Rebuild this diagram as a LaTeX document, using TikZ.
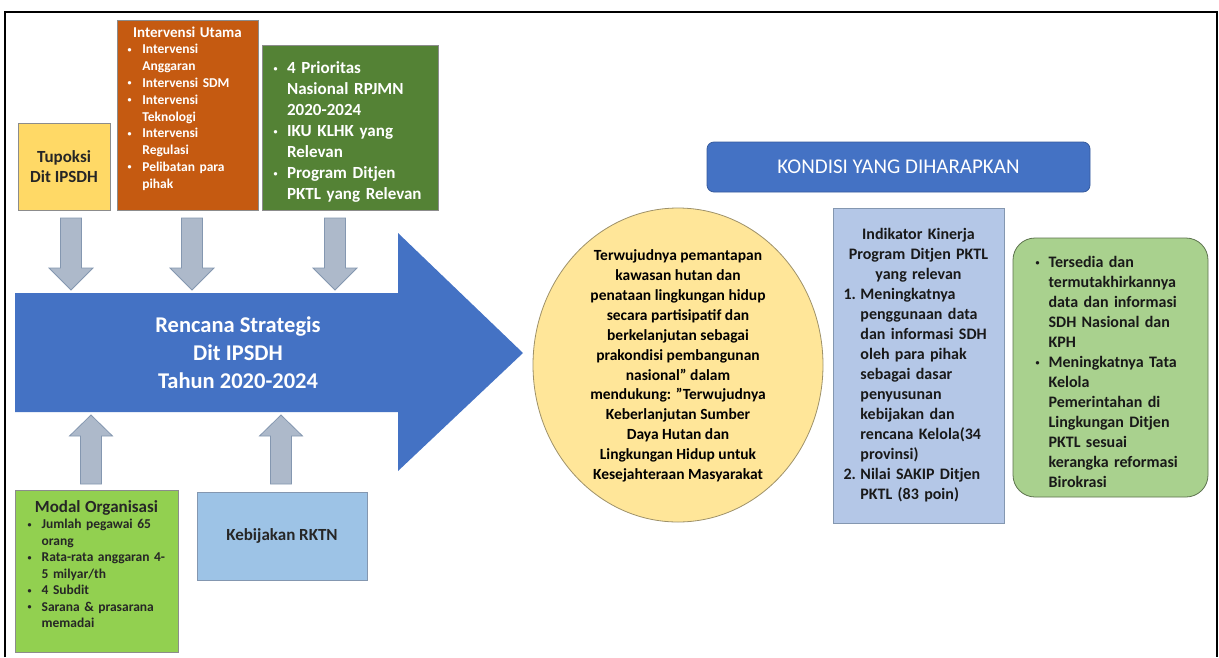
\documentclass[tikz,border=0pt]{standalone}
\usepackage{fontspec}
\setmainfont{Carlito}
\usetikzlibrary{positioning}
\definecolor{tupoksikuning}{HTML}{FFD966}
\definecolor{intervensioranye}{HTML}{C55A11}
\definecolor{prioritashijau}{HTML}{548235}
\definecolor{renstrabiru}{HTML}{4472C4}
\definecolor{panahabu}{HTML}{ADB9CA}
\definecolor{panahtepi}{HTML}{8497B0}
\definecolor{modalhijau}{HTML}{92D050}
\definecolor{rktnbiru}{HTML}{9DC3E6}
\definecolor{tujuankuning}{HTML}{FFE699}
\definecolor{indikatorbiru}{HTML}{B4C7E7}
\definecolor{harapanhijau}{HTML}{A9D18E}
% one line of a list: label, hanging text
\newcommand{\butir}[3][1em]{\par\hangindent=#1\hangafter=1\noindent\makebox[#1][l]{#2}#3}
% small bullet
\newcommand{\titik}{\raisebox{0.12em}{\fontsize{8}{8}\selectfont\textbullet}}
\begin{document}
\begin{tikzpicture}[x=1pt,y=-1pt,
  kotak/.style={draw=black!45, line width=0.8pt, inner sep=0pt},
  panah/.style={fill=panahabu, draw=panahtepi, line width=0.8pt}]
  \useasboundingbox (0,0) rectangle (1219,657);
  \fill[white] (0,0) rectangle (1219,657);
  % frame
  \draw[line width=2pt] (5,657) -- (5,12) -- (1217,12) -- (1217,657);
  % Tupoksi
  \node[kotak, fill=tupoksikuning, minimum width=92pt, minimum height=87pt,
    align=center, text=black!85, font=\bfseries\fontsize{17}{20}\selectfont]
    (tupoksi) at (64,166.5) {Tupoksi\\Dit IPSDH};
  % Intervensi Utama
  \node[kotak, fill=intervensioranye, minimum width=141pt, minimum height=190pt,
    text width=120pt, align=left, text=white, font=\bfseries\fontsize{13.5}{16.8}\selectfont]
    (intervensi) at (187.5,115) {{\centering\fontsize{15}{17}\selectfont Intervensi Utama\par}
    \butir[1.1em]{\titik}{Intervensi\newline Anggaran}
    \butir[1.1em]{\titik}{Intervensi SDM}
    \butir[1.1em]{\titik}{Intervensi\newline Teknologi}
    \butir[1.1em]{\titik}{Intervensi\newline Regulasi}
    \butir[1.1em]{\titik}{Pelibatan para\newline pihak}\par\vspace{13pt}};
  % Prioritas
  \node[kotak, fill=prioritashijau, minimum width=176pt, minimum height=165pt,
    text width=153pt, align=left, text=white, font=\bfseries\fontsize{17}{21}\selectfont]
    (prioritas) at (350,127.5) {\butir[0.8em]{\titik}{4 Prioritas\newline Nasional RPJMN\newline 2020-2024}
    \butir[0.8em]{\titik}{IKU KLHK yang\newline Relevan}
    \butir[0.8em]{\titik}{Program Ditjen\newline PKTL yang Relevan}\par};
  % arrows down
  \foreach \x in {71,192,335}
    \draw[panah] (\x-10.5,218) -- (\x+10.5,218) -- (\x+10.5,268) -- (\x+22,268)
      -- (\x,290) -- (\x-22,268) -- (\x-10.5,268) -- cycle;
  % Rencana Strategis
  \fill[renstrabiru] (15,293) -- (398,293) -- (398,233) -- (523,353)
    -- (398,471) -- (398,412) -- (15,412) -- cycle;
  \node[align=center, text=white, font=\bfseries\fontsize{22.5}{28}\selectfont]
    (renstra) at (238,353) {Rencana Strategis\\Dit IPSDH\\Tahun 2020-2024};
  % arrows up
  \foreach \x in {91,281}
    \draw[panah] (\x-10.5,484) -- (\x-10.5,436) -- (\x-21.5,436) -- (\x,415)
      -- (\x+21.5,436) -- (\x+10.5,436) -- (\x+10.5,484) -- cycle;
  % Modal Organisasi
  \node[kotak, fill=modalhijau, minimum width=163pt, minimum height=162pt,
    text width=138pt, align=left, text=black!85, font=\bfseries\fontsize{13.5}{16.5}\selectfont]
    (modal) at (96.5,571) {{\centering\fontsize{17}{19}\selectfont Modal Organisasi\par}
    \butir[1.05em]{\titik}{Jumlah pegawai 65\newline orang}
    \butir[1.05em]{\titik}{Rata-rata anggaran 4-\newline 5 milyar/th}
    \butir[1.05em]{\titik}{4 Subdit}
    \butir[1.05em]{\titik}{Sarana \& prasarana\newline memadai}\par\vspace{14pt}};
  % Kebijakan RKTN
  \node[kotak, fill=rktnbiru, draw=panahtepi, minimum width=170pt, minimum height=88pt,
    text=black!85, font=\bfseries\fontsize{17}{20}\selectfont]
    (rktn) at (282,536) {Kebijakan RKTN};
  % tujuan
  \draw[fill=tujuankuning, draw=black!35!tujuankuning!80!gray, line width=0.8pt]
    (678,365) ellipse [x radius=145, y radius=157];
  \node[align=center, text=black, font=\bfseries\fontsize{15.5}{19.9}\selectfont]
    (tujuan) at (678,366) {Terwujudnya pemantapan\\kawasan hutan dan\\penataan lingkungan hidup\\
    secara partisipatif dan\\berkelanjutan sebagai\\prakondisi pembangunan\\nasional" dalam\\
    mendukung: "Terwujudnya\\Keberlanjutan Sumber\\Daya Hutan dan\\Lingkungan Hidup untuk\\
    Kesejahteraan Masyarakat};
  % Kondisi yang diharapkan
  \node[kotak, fill=renstrabiru, draw=renstrabiru!80!black, rounded corners=7pt,
    minimum width=383pt, minimum height=50pt, text=white, font=\fontsize{21}{25}\selectfont]
    (kondisi) at (898.5,167) {KONDISI YANG DIHARAPKAN};
  % Indikator Kinerja
  \node[kotak, fill=indikatorbiru, draw=panahtepi, minimum width=171pt, minimum height=315pt,
    text width=150pt, align=left, text=black!90, font=\bfseries\fontsize{16}{20}\selectfont]
    (indikator) at (918.5,365.5) {{\centering Indikator Kinerja\\Program Ditjen PKTL\\yang relevan\par}
    \butir[1.06em]{1.}{Meningkatnya\newline penggunaan data\newline dan informasi SDH\newline oleh para pihak\newline
      sebagai dasar\newline penyusunan\newline kebijakan dan\newline rencana Kelola(34\newline provinsi)}
    \butir[1.06em]{2.}{Nilai SAKIP Ditjen\newline PKTL (83 poin)}\par};
  % harapan
  \node[kotak, fill=harapanhijau, draw=black!45!harapanhijau, rounded corners=22pt,
    minimum width=195pt, minimum height=259pt, text width=150pt, align=left,
    text=black!90, font=\bfseries\fontsize{16}{20}\selectfont]
    (harapan) at (1110.5,367.5) {\butir[0.82em]{\titik}{Tersedia dan\newline termutakhirkannya\newline
      data dan informasi\newline SDH Nasional dan\newline KPH}
    \butir[0.82em]{\titik}{Meningkatnya Tata\newline Kelola\newline Pemerintahan di\newline
      Lingkungan Ditjen\newline PKTL sesuai\newline kerangka reformasi\newline Birokrasi}\par};
\end{tikzpicture}
\end{document}
